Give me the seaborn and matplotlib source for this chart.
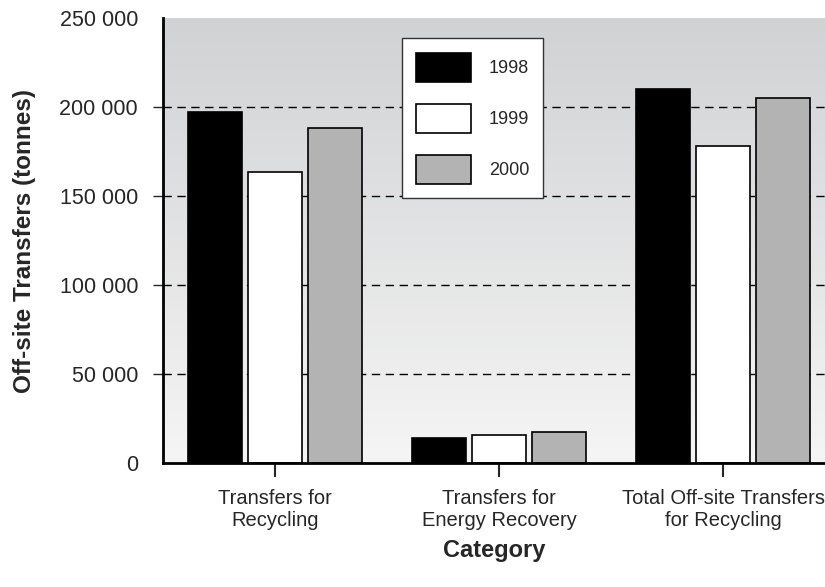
import numpy as np
import pandas as pd
import matplotlib
matplotlib.use("Agg")
import matplotlib.pyplot as plt
from matplotlib.colors import LinearSegmentedColormap
from matplotlib.ticker import FuncFormatter
import seaborn as sns

categories = [
    "Transfers for\nRecycling",
    "Transfers for\nEnergy Recovery",
    "Total Off-site Transfers\nfor Recycling",
]
years = ["1998", "1999", "2000"]
values_1998 = [197000, 14000, 210000]
values_1999 = [163500, 16000, 178000]
values_2000 = [188500, 17500, 205000]
year_colors = ["#000000", "#ffffff", "#b3b3b3"]
y_ticks = [0, 50000, 100000, 150000, 200000, 250000]

df = pd.DataFrame(
    {
        "category": categories * 3,
        "year": [y for y in years for _ in categories],
        "value": values_1998 + values_1999 + values_2000,
    }
)

sns.set_style("white")
plt.rcParams["font.family"] = ["Liberation Sans", "DejaVu Sans"]

fig = plt.figure(figsize=(8.25, 5.87), dpi=100)
ax = fig.add_axes([0.1976, 0.2112, 0.8024, 0.758])

# grey-to-white background
bg = LinearSegmentedColormap.from_list("bg", ["#f5f5f5", "#d1d2d4"])
grad = np.linspace(0, 1, 256).reshape(-1, 1)
ax.imshow(grad, extent=[0, 1, 0, 1], transform=ax.transAxes, cmap=bg,
          aspect="auto", origin="lower", zorder=0)
ax.patch.set_visible(False)

sns.barplot(
    data=df, x="category", y="value", hue="year", palette=year_colors,
    edgecolor="black", linewidth=1.2, width=0.8, gap=0.1, ax=ax, zorder=2,
)

ax.set_xlim(-0.5, 2.455)
ax.set_ylim(0, 250000)
ax.set_yticks(y_ticks)
ax.yaxis.set_major_formatter(FuncFormatter(lambda v, p: f"{int(v):,}".replace(",", " ")))

for y in y_ticks[1:-1]:
    ax.axhline(y, color="black", lw=1, linestyle=(0, (6, 4)), zorder=1)

for side in ["top", "right"]:
    ax.spines[side].set_visible(False)
for side in ["left", "bottom"]:
    ax.spines[side].set_linewidth(2)
    ax.spines[side].set_color("black")

ax.tick_params(axis="y", left=True, length=7, width=1, pad=11, labelsize=15.5)
ax.tick_params(axis="x", bottom=True, length=10, width=1.5, pad=9, labelsize=14.5)
yt = ax.yaxis.get_major_ticks()
yt[0].tick1line.set_visible(False)
yt[-1].tick1line.set_visible(False)

ax.set_xlabel("Category", fontsize=17, fontweight="bold", labelpad=6)
ax.set_ylabel("Off-site Transfers (tonnes)", fontsize=17.5, fontweight="bold", labelpad=17)

handles, labels = ax.get_legend_handles_labels()
leg = ax.legend(
    handles, labels, loc="upper left", bbox_to_anchor=(0.361, 0.955),
    fontsize=13, frameon=True, fancybox=False, framealpha=1,
    handlelength=3.0, handleheight=2.1, handletextpad=1.0,
    labelspacing=1.22, borderpad=0.8, borderaxespad=0,
)
leg.get_frame().set_edgecolor("#333333")
leg.get_frame().set_linewidth(1)
leg.set_zorder(5)

fig.savefig("out.png", dpi=100)
